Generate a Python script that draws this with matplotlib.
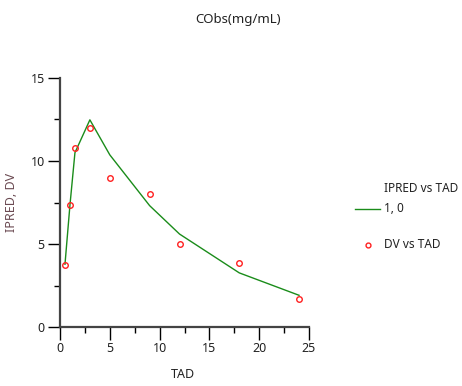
import numpy as np
import matplotlib.pyplot as plt
from matplotlib.ticker import MultipleLocator
from matplotlib.lines import Line2D

plt.rcParams['font.family'] = ['Noto Sans', 'DejaVu Sans']

# observed concentrations
tad = [0.5, 1, 1.5, 3, 5, 9, 12, 18, 24]
dv = [3.75, 7.37, 10.8, 12.0, 9.0, 8.0, 5.0, 3.88, 1.66]
# individual predictions
ipred = [3.78, 7.35, 10.5, 12.48, 10.37, 7.31, 5.6, 3.26, 1.91]

fig = plt.figure(figsize=(4.62, 3.86), dpi=100)
ax = fig.add_axes([60 / 462, 59 / 386, 249 / 462, 249 / 386])

ax.plot(tad, ipred, color='#1a8c1a', lw=1.0)
ax.plot(tad, dv, 'o', mfc='none', mec='#ff2020', ms=4, mew=1.0)

ax.set_xlim(0, 25)
ax.set_ylim(0, 15)
ax.xaxis.set_major_locator(MultipleLocator(5))
ax.xaxis.set_minor_locator(MultipleLocator(2.5))
ax.yaxis.set_major_locator(MultipleLocator(5))
ax.yaxis.set_minor_locator(MultipleLocator(2.5))

for s in ['top', 'right']:
    ax.spines[s].set_visible(False)
for s in ['left', 'bottom']:
    ax.spines[s].set_linewidth(1.6)
    ax.spines[s].set_color('#444444')

ax.tick_params(which='major', length=9, width=1, color='black', labelsize=9, labelcolor='#222222', pad=2)
ax.tick_params(which='minor', length=4.5, width=1, color='black')

ax.set_xlabel('TAD', fontsize=9, color='#222222', va='center')
ax.xaxis.set_label_coords(0.494, -0.189)
ax.set_ylabel('IPRED, DV', fontsize=9, color='#6b4a52', va='center')
ax.yaxis.set_label_coords(-0.193, 0.502)
fig.text(238 / 462, 1 - 20 / 386, 'CObs(mg/mL)', ha='center', va='center', fontsize=9.5, color='#222222')

# legend
fig.text(384 / 462, 1 - 189 / 386, 'IPRED vs TAD', ha='left', va='center', fontsize=8.5, color='#222222')
fig.text(384 / 462, 1 - 209 / 386, '1, 0', ha='left', va='center', fontsize=8.5, color='#222222')
fig.add_artist(Line2D([355 / 462, 380 / 462], [1 - 209 / 386, 1 - 209 / 386], color='#1a8c1a', lw=1.0))
fig.add_artist(Line2D([368 / 462], [1 - 245 / 386], marker='o', mfc='none', mec='#ff2020', ms=3.5, mew=1.0))
fig.text(384 / 462, 1 - 244 / 386, 'DV vs TAD', ha='left', va='center', fontsize=8.5, color='#222222')

fig.savefig('out.png', dpi=100)
